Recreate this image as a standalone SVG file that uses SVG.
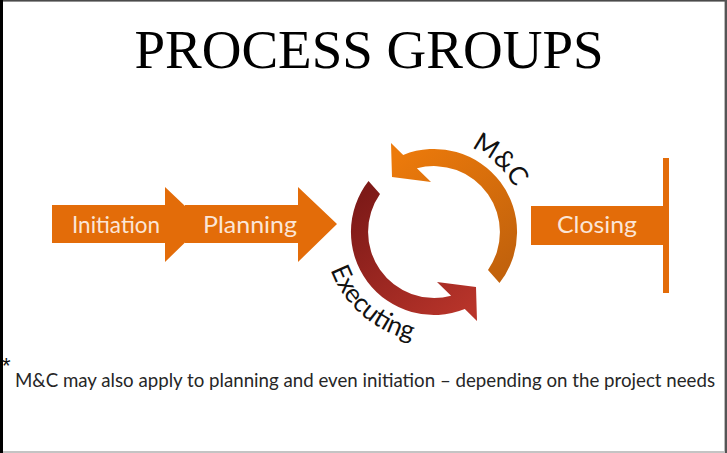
<svg xmlns="http://www.w3.org/2000/svg" width="727" height="453" viewBox="0 0 727 453">
  <style>
    .step { fill: #E36C09; }
    .step-label { font-family: Lato, "Open Sans", "Liberation Sans", sans-serif; font-size: 23px; fill: #FBE5D6; text-anchor: middle; }
    .cycle-label { font-family: Lato, "Open Sans", "Liberation Sans", sans-serif; font-size: 26px; fill: #111; }
    .title { font-family: "Liberation Serif", "Times New Roman", serif; font-size: 55px; fill: #000; text-anchor: middle; }
    .note { font-family: Lato, "Open Sans", "Liberation Sans", sans-serif; font-size: 19px; fill: #262626; }
    .star { font-family: "Liberation Sans", Arial, sans-serif; font-size: 22px; fill: #111; }
  </style>
  <defs>
    <!-- one curved arrow around the cycle centre; drawn twice, the second turned half a turn -->
    <path id="cycleArrow" d="M -65.5,-51 A 83 83 0 0 0 30.8,77.1 L 43,89 L 42,55 L 3,50 L 17.1,63.7 A 66 66 0 0 1 -54,-37.9 Z"/>
    <linearGradient id="gradExec" gradientUnits="userSpaceOnUse" x1="-60" y1="-45" x2="40" y2="75">
      <stop offset="0" stop-color="#7E1A18"/>
      <stop offset="1" stop-color="#B8342A"/>
    </linearGradient>
    <linearGradient id="gradMC" gradientUnits="userSpaceOnUse" x1="-60" y1="-45" x2="40" y2="75">
      <stop offset="0" stop-color="#C2620C"/>
      <stop offset="1" stop-color="#EC7A0B"/>
    </linearGradient>
    <path id="mcPath" d="M 453.13,142.01 A 92 92 0 0 1 521.98,205.10"/>
    <path id="execPath" d="M 324.26,240.53 A 110 110 0 0 0 441.53,341.74"/>
  </defs>

  <!-- page -->
  <rect x="0" y="0" width="727" height="453" fill="#fff"/>
  <rect x="0" y="0" width="727" height="1.6" fill="#4a4a4a"/>
  <rect x="0" y="0" width="3" height="453" fill="#000"/>
  <rect x="724.6" y="0" width="2.4" height="453" fill="#555"/>
  <rect x="3" y="451" width="721.6" height="2" fill="#c4c4c4"/>

  <g id="title">
    <text class="title" x="369" y="68">PROCESS GROUPS</text>
  </g>

  <g id="initiation">
    <polygon class="step" points="52,205 165,205 165,187 204,224 165,262 165,243 52,243"/>
    <text class="step-label" x="116" y="233" textLength="88" lengthAdjust="spacingAndGlyphs">Initiation</text>
  </g>

  <g id="planning">
    <polygon class="step" points="185,205 298,205 298,187 337,224 298,262 298,243 185,243"/>
    <text class="step-label" x="250" y="233" textLength="94" lengthAdjust="spacingAndGlyphs">Planning</text>
  </g>

  <g id="connectors">
    <use href="#cycleArrow" transform="translate(434,232)" fill="url(#gradExec)"/>
    <use href="#cycleArrow" transform="translate(434,232) rotate(180)" fill="url(#gradMC)"/>
  </g>

  <g id="mc">
    <text class="cycle-label"><textPath href="#mcPath" startOffset="50%" text-anchor="middle">M&amp;C</textPath></text>
  </g>

  <g id="executing">
    <text class="cycle-label"><textPath href="#execPath" startOffset="50%" text-anchor="middle">Executing</textPath></text>
  </g>

  <g id="closing">
    <rect class="step" x="531" y="206" width="134" height="39"/>
    <rect class="step" x="663" y="158" width="6" height="135"/>
    <text class="step-label" x="597" y="233" textLength="80" lengthAdjust="spacingAndGlyphs">Closing</text>
  </g>

  <g id="footnote">
    <text class="star" x="2" y="373">*</text>
    <text class="note" x="15" y="387" textLength="700" lengthAdjust="spacingAndGlyphs">M&amp;C may also apply to planning and even initiation – depending on the project needs</text>
  </g>
</svg>
